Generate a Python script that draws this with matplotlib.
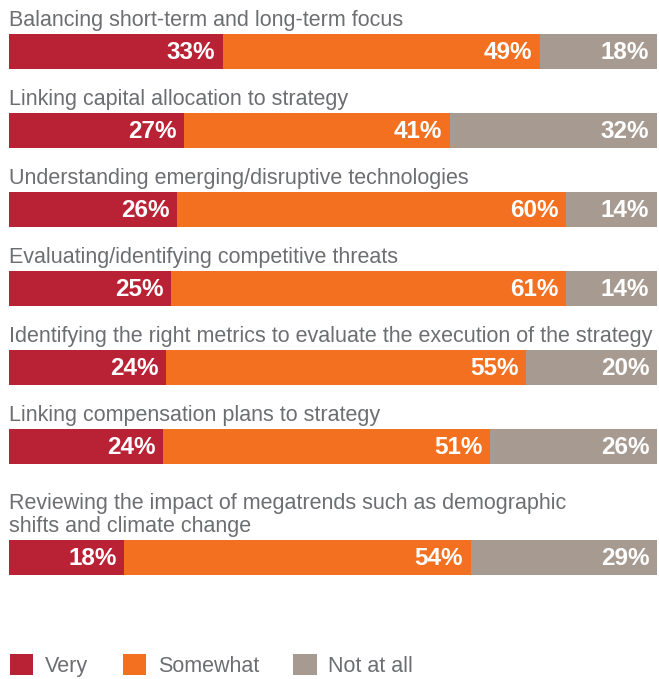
import numpy as np
import matplotlib.pyplot as plt
from matplotlib.patches import Patch

plt.rcParams['font.family'] = ['Liberation Sans', 'DejaVu Sans']

categories = [
    'Balancing short-term and long-term focus',
    'Linking capital allocation to strategy',
    'Understanding emerging/disruptive technologies',
    'Evaluating/identifying competitive threats',
    'Identifying the right metrics to evaluate the execution of the strategy',
    'Linking compensation plans to strategy',
    'Reviewing the impact of megatrends such as demographic\nshifts and climate change',
]
very = [33, 27, 26, 25, 24, 24, 18]
somewhat = [49, 41, 60, 61, 55, 51, 54]
not_at_all = [18, 32, 14, 14, 20, 26, 29]
series_names = ['Very', 'Somewhat', 'Not at all']
colors = ['#B82234', '#F37021', '#A79B91']
text_gray = '#6D6E71'

W, H = 659, 679
fig = plt.figure(figsize=(W / 100, H / 100), dpi=100)
# axes covers full height (pixel units on y), bar span on x (percent)
ax = fig.add_axes([9 / W, 0, 648 / W, 1])
ax.set_xlim(0, 100)
ax.set_ylim(H, 0)
ax.axis('off')

data = np.array([very, somewhat, not_at_all], dtype=float)
totals = data.sum(axis=0)
shares = data / totals * 100

bar_h = 35
row_step = 79
extra_line = 32
tops = []
y = 34
for cat in categories:
    y += extra_line * (cat.count('\n'))
    tops.append(y)
    y += row_step
tops = np.array(tops)

left = np.zeros(len(categories))
for k in range(3):
    ax.barh(tops, shares[k], left=left, height=bar_h, align='edge',
            color=colors[k], linewidth=0)
    for i in range(len(categories)):
        ax.text(left[i] + shares[k][i] - 1.2, tops[i] + bar_h / 2 + 1,
                f'{int(data[k][i])}%', ha='right', va='center',
                color='white', fontsize=17.5, fontweight='bold')
    left += shares[k]

for i, cat in enumerate(categories):
    ax.text(0, tops[i] - 3, cat, ha='left', va='bottom', color=text_gray,
            fontsize=15.5, linespacing=1.1)

handles = [Patch(facecolor=c, edgecolor='none') for c in colors]
fig.legend(handles, series_names, loc='center left',
           bbox_to_anchor=(4 / W, 1 - 665.5 / H), ncol=3, frameon=False,
           fontsize=15.5, labelcolor=text_gray, handlelength=1.07,
           handleheight=1.07, handletextpad=0.55, columnspacing=1.6,
           borderaxespad=0, borderpad=0.3)

fig.savefig('out.png', dpi=100)
